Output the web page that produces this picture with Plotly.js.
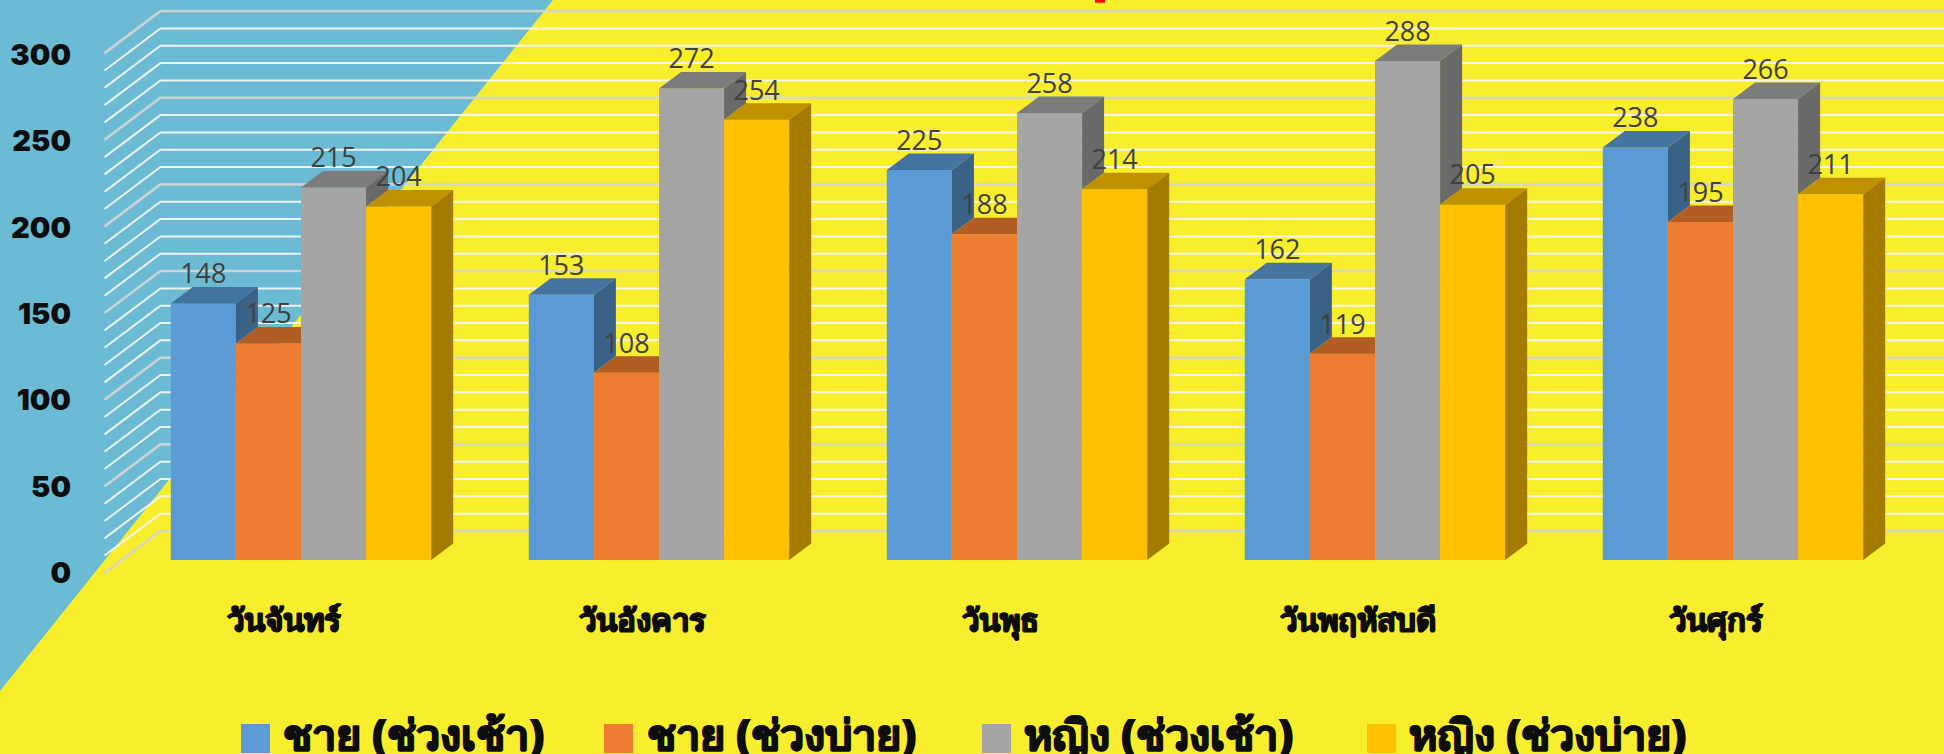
<!DOCTYPE html>
<html><head><meta charset="utf-8">
<script src="https://cdn.plot.ly/plotly-3.0.1.min.js"></script>
<style>html,body{margin:0;padding:0;background:#F9EE2D}#chart{width:1944px;height:754px}</style>
</head><body><div id="chart"></div>
<script>
// ---- data ----
const categories = ["วันจันทร์","วันอังคาร","วันพุธ","วันพฤหัสบดี","วันศุกร์"];
const seriesNames = ["ชาย (ช่วงเช้า)","ชาย (ช่วงบ่าย)","หญิง (ช่วงเช้า)","หญิง (ช่วงบ่าย)"];
const menMorning = [148,153,225,162,238];
const menAfternoon = [125,108,188,119,195];
const womenMorning = [215,272,258,288,266];
const womenAfternoon = [204,254,214,205,211];
const yTicks = [0,50,100,150,200,250,300];
const gridValues = [0,10,20,30,40,50,60,70,80,90,100,110,120,130,140,150,160,170,180,190,200,210,220,230,240,250,260,270,280,290,300];
const frontColors = ["#5B9BD5","#ED7D31","#A5A5A5","#FFC000"];
const topColors = ["#4475A0","#B25D24","#7C7C7C","#BF9000"];
const sideColors = ["#3A6287","#9A4F1E","#696969","#A37B00"];
// ---- geometry ----
const W=1944,H=754,mL=72,mB=164,plotH=H-mB;
const pxPerCat=358, pxPerUnit=1.733, x0Px=301, y0Px=560;
const xOf=p=>(p-x0Px)/pxPerCat, yOf=p=>(y0Px-p)/pxPerUnit;
const barW=65.1/pxPerCat, groupW=barW*4;
const depthX=22/pxPerCat, depthY=16.5/pxPerUnit;
const seriesValues=[menMorning,menAfternoon,womenMorning,womenAfternoon];
const tickShift=-13/pxPerUnit; // front wall edge is below the bars' baseline
const wallFrontX=xOf(104.5), wallBackX=xOf(160.4), wallBackDy=(y0Px-531)/pxPerUnit;
const xRange=[xOf(mL),xOf(W)], yRange=[yOf(plotH),yOf(0)];
const paperX=p=>(p-mL)/(W-mL), paperY=p=>(plotH-p)/plotH;
const heavy='1px 0 0 #0D0D0D, -1px 0 0 #0D0D0D, 0 0.5px 0 #0D0D0D';

const traces=[];
seriesValues.forEach((vals,s)=>{
  traces.push({type:'bar',name:seriesNames[s],x:categories.map((c,i)=>i),y:vals,
    marker:{color:frontColors[s],line:{width:0}},showlegend:false,hoverinfo:'x+y+name'});
});
seriesValues.forEach((vals,s)=>{
  const tx=[],ty=[],sx=[],sy=[];
  vals.forEach((v,i)=>{
    const L=i-groupW/2+s*barW, R=L+barW;
    const next=s<3?seriesValues[s+1][i]:null;
    if(next!==null && next>=v){
      tx.push(L,L+depthX,R,R,null); ty.push(v,v+depthY,v+depthY,v,null);
    }else{
      tx.push(L,L+depthX,R+depthX,R,null); ty.push(v,v+depthY,v+depthY,v,null);
      const low=next===null?0:next;
      sx.push(R,R+depthX,R+depthX,R,null); sy.push(v,v+depthY,low+depthY,low,null);
    }
  });
  traces.push({type:'scatter',mode:'lines',x:tx,y:ty,fill:'toself',fillcolor:topColors[s],line:{width:0},showlegend:false,hoverinfo:'skip'});
  traces.push({type:'scatter',mode:'lines',x:sx,y:sy,fill:'toself',fillcolor:sideColors[s],line:{width:0},showlegend:false,hoverinfo:'skip'});
});
seriesValues.forEach((vals,s)=>{
  traces.push({type:'scatter',mode:'text',x:vals.map((v,i)=>i-groupW/2+(s+0.5)*barW),y:vals.map(v=>v+27/pxPerUnit),
    text:vals.map(String),textposition:'middle center',
    textfont:{family:'"Open Sans",sans-serif',size:27,color:'#404040'},showlegend:false,hoverinfo:'skip'});
});

const shapes=[
 {type:'path',xref:'paper',yref:'paper',layer:'below',line:{width:0},fillcolor:'#6ABBD3',
  path:`M ${paperX(0)} ${paperY(0)} L ${paperX(553)} ${paperY(0)} L ${paperX(0)} ${paperY(691)} Z`},
 {type:'rect',xref:'paper',yref:'paper',layer:'above',line:{width:0},fillcolor:'#FF0000',
  x0:paperX(1095),x1:paperX(1105),y0:paperY(0),y1:paperY(2.7)}
];
gridValues.forEach(v=>{
  const major=v%50===0;
  shapes.push({type:'path',xref:'x',yref:'y',layer:'below',
    line:{color:major?'rgba(212,212,212,0.9)':'rgba(244,244,244,0.95)',width:major?2.6:2},
    path:`M ${wallFrontX} ${v+tickShift} L ${wallBackX} ${v+wallBackDy} L ${xRange[1]} ${v+wallBackDy}`});
});
// legend
const legendX=[241,604,982,1367], legendTextX=[281,644.5,1022,1407];
const annotations=seriesNames.map((n,i)=>({xref:'paper',yref:'paper',x:paperX(legendTextX[i]),y:paperY(733),
  xanchor:'left',yanchor:'middle',showarrow:false,text:n,
  font:{family:'"Noto Sans",sans-serif',size:43,color:'#0D0D0D',weight:800,shadow:heavy}}));
seriesNames.forEach((n,i)=>shapes.push({type:'rect',xref:'paper',yref:'paper',layer:'above',line:{width:0},
  fillcolor:frontColors[i],x0:paperX(legendX[i]),x1:paperX(legendX[i]+29),y0:paperY(724),y1:paperY(753)}));

const layout={width:W,height:H,showlegend:false,
 margin:{l:mL,r:0,t:0,b:mB,pad:0},paper_bgcolor:'#F9EE2D',plot_bgcolor:'rgba(0,0,0,0)',
 barmode:'group',bargap:1-groupW,bargroupgap:0,
 xaxis:{type:'linear',range:xRange,tickmode:'array',tickvals:categories.map((c,i)=>i),ticktext:categories,
   showgrid:false,zeroline:false,showline:false,ticks:'',ticklabelstandoff:9,ticklabelshift:-17,
   tickfont:{family:'"Noto Sans",sans-serif',size:31,color:'#0D0D0D',weight:800,shadow:heavy}},
 yaxis:{range:yRange,tickmode:'array',tickvals:yTicks.map(v=>yOf(573-1.727*v)),ticktext:yTicks.map(String),
   showgrid:false,zeroline:false,showline:false,ticks:'',ticklabelstandoff:0,
   tickfont:{family:'Inter,sans-serif',size:29,color:'#0D0D0D',weight:900}},
 shapes,annotations};
Plotly.newPlot('chart',traces,layout,{displayModeBar:false,staticPlot:true});
</script></body></html>
